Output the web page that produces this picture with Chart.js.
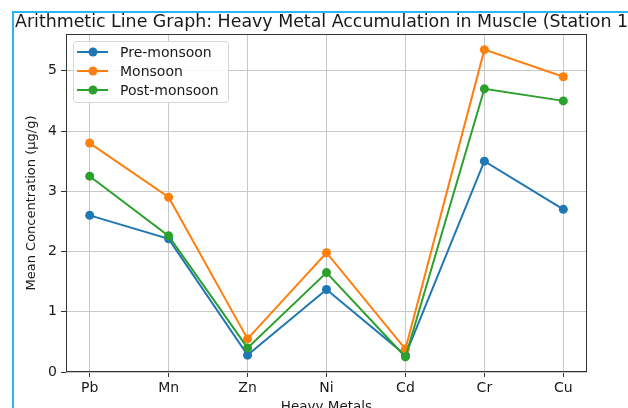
<!DOCTYPE html>
<html>
<head>
<meta charset="utf-8">
<script src="https://cdn.jsdelivr.net/npm/chart.js@4.4.0/dist/chart.umd.min.js"></script>
<style>
    html, body { margin: 0; padding: 0; background: #fff; overflow: hidden; }
    #wrap { position: absolute; left: 0; top: 0; width: 628px; height: 424px; }
    .edge { position: absolute; background: #29b6f6; }
</style>
</head>
<body>
<div id="wrap"><canvas id="chart"></canvas></div>
<div class="edge" style="left:12px;top:11px;width:2px;height:420px"></div>
<div class="edge" style="left:12px;top:11px;width:620px;height:2px"></div>
<script>
// Données
const categories = ['Pb', 'Mn', 'Zn', 'Ni', 'Cd', 'Cr', 'Cu'];
const preMonsoon = [2.6, 2.21, 0.28, 1.37, 0.28, 3.5, 2.7];
const monsoon = [3.8, 2.9, 0.55, 1.98, 0.38, 5.35, 4.9];
const postMonsoon = [3.25, 2.26, 0.4, 1.65, 0.25, 4.7, 4.5];
const yTicks = [0, 1, 2, 3, 4, 5];

const TITLE = 'Arithmetic Line Graph: Heavy Metal Accumulation in Muscle (Station 1)';
const FONT = 'DejaVu Sans';
const TEXT = '#1a1a1a';

function toPoints(values) {
    return values.map((v, i) => ({ x: i, y: v }));
}

function serie(label, values, color, order) {
    return {
        label: label,
        data: toPoints(values),
        borderColor: color,
        backgroundColor: color,
        pointBackgroundColor: color,
        pointBorderWidth: 0,
        pointRadius: 4.5,
        borderWidth: 2,
        tension: 0,
        order: order
    };
}

// Titre sans compression (il dépasse à droite comme sur l'original)
const titlePlugin = {
    id: 'wideTitle',
    afterDraw(chart) {
        const ctx = chart.ctx;
        ctx.save();
        ctx.font = '17.4px "' + FONT + '"';
        ctx.fillStyle = TEXT;
        ctx.textAlign = 'left';
        ctx.textBaseline = 'alphabetic';
        ctx.fillText(TITLE, 15, 27);
        ctx.restore();
    }
};

// Cadre complet autour de la zone de tracé
const framePlugin = {
    id: 'frame',
    afterDatasetsDraw(chart) {
        const a = chart.chartArea;
        const ctx = chart.ctx;
        ctx.save();
        ctx.strokeStyle = '#333';
        ctx.lineWidth = 1;
        ctx.strokeRect(Math.round(a.left) + 0.5, Math.round(a.top) + 0.5,
            Math.round(a.right - a.left) - 1, Math.round(a.bottom - a.top) - 1);
        ctx.restore();
    }
};

// Légende en haut à gauche, dans la zone de tracé
const legendPlugin = {
    id: 'innerLegend',
    afterDraw(chart) {
        const ctx = chart.ctx;
        const a = chart.chartArea;
        const x = a.left + 7, y = a.top + 7, w = 155, h = 61;
        ctx.save();
        ctx.fillStyle = 'rgba(255,255,255,0.85)';
        ctx.strokeStyle = '#d6d6d6';
        ctx.lineWidth = 1;
        ctx.beginPath();
        ctx.roundRect(x + 0.5, y + 0.5, w, h, 3);
        ctx.fill();
        ctx.stroke();
        ctx.font = '14px "' + FONT + '"';
        ctx.textBaseline = 'middle';
        chart.data.datasets.forEach((ds, i) => {
            const ry = y + 11 + i * 19;
            ctx.strokeStyle = ds.borderColor;
            ctx.lineWidth = 2;
            ctx.beginPath();
            ctx.moveTo(x + 4, ry);
            ctx.lineTo(x + 35, ry);
            ctx.stroke();
            ctx.fillStyle = ds.borderColor;
            ctx.beginPath();
            ctx.arc(x + 20, ry, 4.5, 0, Math.PI * 2);
            ctx.fill();
            ctx.fillStyle = TEXT;
            ctx.fillText(ds.label, x + 47, ry + 1);
        });
        ctx.restore();
    }
};

new Chart(document.getElementById('chart'), {
    type: 'line',
    data: {
        datasets: [
            serie('Pre-monsoon', preMonsoon, '#1f77b4', 3),
            serie('Monsoon', monsoon, '#ff7f0e', 2),
            serie('Post-monsoon', postMonsoon, '#2ca02c', 1)
        ]
    },
    options: {
        responsive: true,
        maintainAspectRatio: false,
        animation: false,
        layout: { padding: { left: 0, right: 41, top: 34, bottom: 0 } },
        plugins: {
            legend: { display: false },
            tooltip: { enabled: false },
            title: { display: false }
        },
        scales: {
            x: {
                type: 'linear',
                min: -0.3,
                max: 6.3,
                afterBuildTicks: s => { s.ticks = categories.map((c, i) => ({ value: i })); },
                afterFit: s => { s.height = 52; },
                ticks: {
                    callback: v => categories[v],
                    color: TEXT,
                    font: { family: FONT, size: 14 },
                    padding: 3,
                    maxRotation: 0,
                    autoSkip: false
                },
                grid: { color: '#c8c8c8', tickColor: '#333', tickLength: 5, lineWidth: 1 },
                border: { display: false },
                title: {
                    display: true,
                    text: 'Heavy Metals',
                    color: TEXT,
                    font: { family: FONT, size: 13.5 },
                    padding: { top: 0, bottom: 8 }
                }
            },
            y: {
                min: 0,
                max: 5.61,
                afterBuildTicks: s => { s.ticks = yTicks.map(v => ({ value: v })); },
                afterFit: s => { s.width = 66; },
                ticks: {
                    color: TEXT,
                    font: { family: FONT, size: 14 },
                    padding: 4
                },
                grid: { color: '#c8c8c8', tickColor: '#333', tickLength: 5, lineWidth: 1 },
                border: { display: false },
                title: {
                    display: true,
                    text: 'Mean Concentration (μg/g)',
                    color: TEXT,
                    font: { family: FONT, size: 13 },
                    padding: { top: 24, bottom: 0 }
                }
            }
        }
    },
    plugins: [framePlugin, legendPlugin, titlePlugin]
});
</script>
</body>
</html>
